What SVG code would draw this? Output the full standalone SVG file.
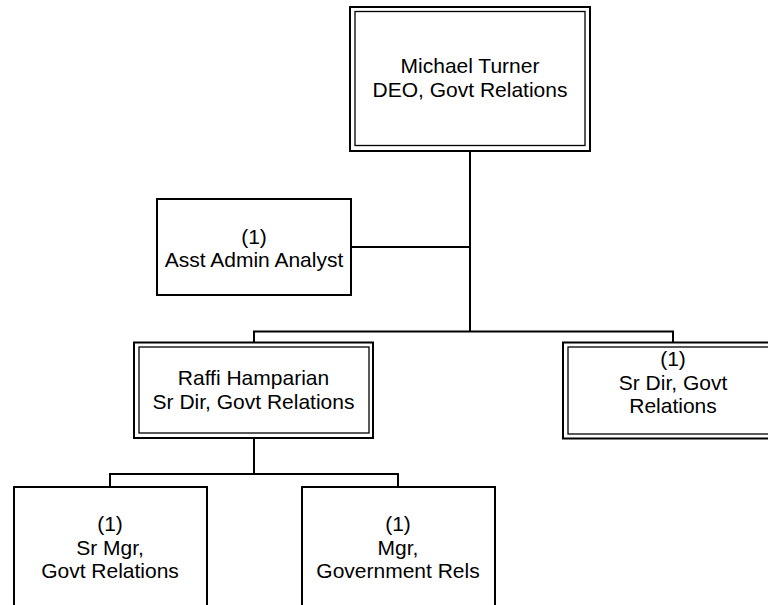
<svg xmlns="http://www.w3.org/2000/svg" width="768" height="605" viewBox="0 0 768 605">
<style>
.bg{fill:#fff}
.outer{fill:#fff;stroke:#000;stroke-width:2}
.inner{fill:none;stroke:#000;stroke-width:1.3}
.box{fill:#fff;stroke:#000;stroke-width:2}
.conn{fill:none;stroke:#000;stroke-width:2}
text{font-family:"Liberation Sans",Arial,sans-serif;font-size:21px;fill:#000;text-anchor:middle}
</style>
<rect class="bg" x="0" y="0" width="768" height="605"/>
<g id="connectors">
<path class="conn" d="M470 151V331.5M351 247H470M254 342V331.5H673V342M254 438V474M110 487V474H398V487"/>
</g>
<g id="n-turner">
<rect class="outer" x="350" y="7" width="240" height="144"/>
<rect class="inner" x="355" y="11.5" width="230" height="134"/>
<text x="470" y="73">Michael Turner</text>
<text x="470" y="97">DEO, Govt Relations</text>
</g>
<g id="n-asst">
<rect class="box" x="157" y="199" width="194" height="96"/>
<text x="254" y="244">(1)</text>
<text x="254" y="267">Asst Admin Analyst</text>
</g>
<g id="n-raffi">
<rect class="outer" x="134" y="342.5" width="239" height="95.5"/>
<rect class="inner" x="139" y="347" width="230" height="86"/>
<text x="253.5" y="385">Raffi Hamparian</text>
<text x="253.5" y="409">Sr Dir, Govt Relations</text>
</g>
<g id="n-srdir">
<rect class="outer" x="563" y="342.5" width="240" height="96"/>
<rect class="inner" x="568" y="347" width="230" height="87"/>
<text x="673" y="366">(1)</text>
<text x="673" y="390">Sr Dir, Govt</text>
<text x="673" y="413">Relations</text>
</g>
<g id="n-srmgr">
<rect class="box" x="14" y="487" width="193" height="140"/>
<text x="110" y="531">(1)</text>
<text x="110" y="554.5">Sr Mgr,</text>
<text x="110" y="578">Govt Relations</text>
</g>
<g id="n-mgr">
<rect class="box" x="302" y="487" width="193" height="140"/>
<text x="398" y="531">(1)</text>
<text x="398" y="554.5">Mgr,</text>
<text x="398" y="578">Government Rels</text>
</g>
</svg>
